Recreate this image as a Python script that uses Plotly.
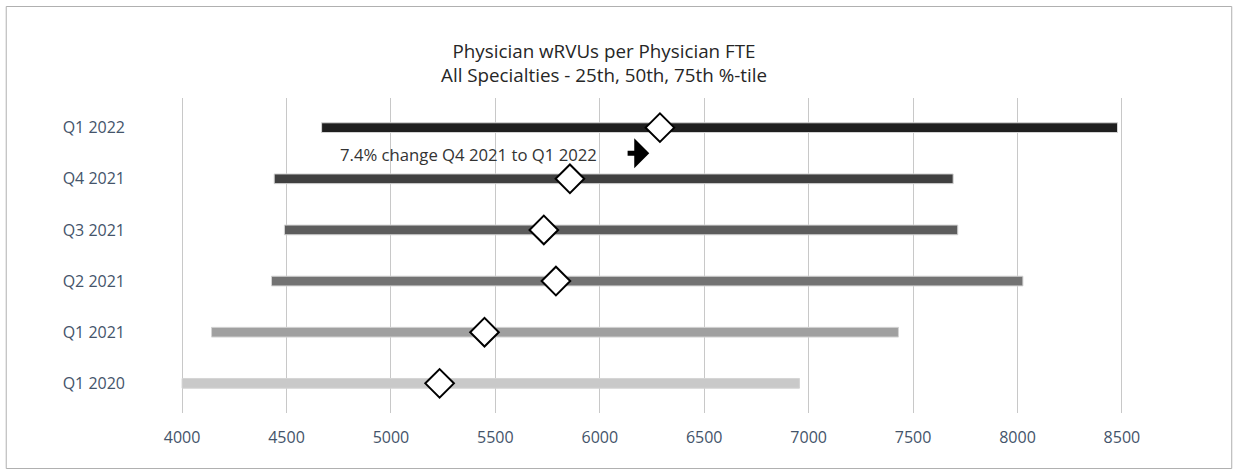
import plotly.graph_objects as go

categories = ["Q1 2020", "Q1 2021", "Q2 2021", "Q3 2021", "Q4 2021", "Q1 2022"]
p25 = [4000, 4141, 4428, 4490, 4441, 4668]
p50 = [5233, 5448, 5790, 5732, 5857, 6288]
p75 = [6956, 7430, 8026, 7714, 7692, 8479]
bar_colors = ["#c9c9c9", "#a0a0a0", "#737373", "#5d5d5d", "#404040", "#1f1f1f"]
x_ticks = [4000, 4500, 5000, 5500, 6000, 6500, 7000, 7500, 8000, 8500]
title_lines = ["Physician wRVUs per Physician FTE", "All Specialties - 25th, 50th, 75th %-tile"]
note_text = "7.4% change Q4 2021 to Q1 2022"

FONT = "Open Sans"
W, H = 1238, 475
L, R, T, B = 180.2, 114.2, 98, 62

fig = go.Figure()
fig.add_trace(go.Bar(
    y=categories, x=[b - a for a, b in zip(p25, p75)], base=p25,
    orientation="h", width=0.19,
    marker=dict(color=bar_colors, line=dict(color="#d4d4d4", width=1)),
    hoverinfo="skip", showlegend=False,
))
fig.add_trace(go.Scatter(
    y=categories, x=p50, mode="markers",
    marker=dict(symbol="diamond", size=22, color="white",
                line=dict(color="black", width=2)),
    showlegend=False,
))

# arrow
fig.add_annotation(x=6237, y=4.5, ax=6126, ay=4.5, axref="x", ayref="y",
                   xref="x", yref="y", text="", showarrow=True,
                   arrowhead=1, arrowwidth=5, arrowsize=1.0, arrowcolor="black")
fig.add_annotation(x=5373, y=4.47, xref="x", yref="y", text=note_text,
                   showarrow=False, font=dict(family=FONT, size=16.7, color="#333333"))

# border
def px2paper_x(px):
    return (px - L) / (W - L - R)

def px2paper_y(py):
    return (H - B - py) / (H - T - B)

fig.add_shape(type="rect", xref="paper", yref="paper",
              x0=px2paper_x(6.5), x1=px2paper_x(1231.5),
              y0=px2paper_y(468.5), y1=px2paper_y(6.5),
              line=dict(color="#b0b0b0", width=1), fillcolor="rgba(0,0,0,0)",
              layer="below")

fig.update_layout(
    width=W, height=H,
    margin=dict(l=L, r=R, t=T, b=B, pad=0),
    paper_bgcolor="white", plot_bgcolor="white",
    title=dict(text="<br>".join(title_lines), x=604 / W, xanchor="center",
               y=1 - 57.5 / H, yanchor="middle", yref="container",
               font=dict(family=FONT, size=18.8, color="#262626")),
    font=dict(family=FONT),
    xaxis=dict(range=[3990, 8510], tickvals=x_ticks, showgrid=True,
               gridcolor="#c8c8c8", gridwidth=1, zeroline=False,
               showline=False, ticks="", ticklabelstandoff=13,
               tickfont=dict(family=FONT, size=16, color="#44546a")),
    yaxis=dict(type="category", categoryorder="array", categoryarray=categories,
               range=[-0.58, 5.58], showgrid=False, zeroline=False,
               showline=False, ticks="", ticklabelstandoff=54,
               tickfont=dict(family=FONT, size=16, color="#44546a")),
    bargap=0.5,
)

fig.write_html("out.html", config={"displayModeBar": False},
               post_script="document.body.style.margin='0px';")
